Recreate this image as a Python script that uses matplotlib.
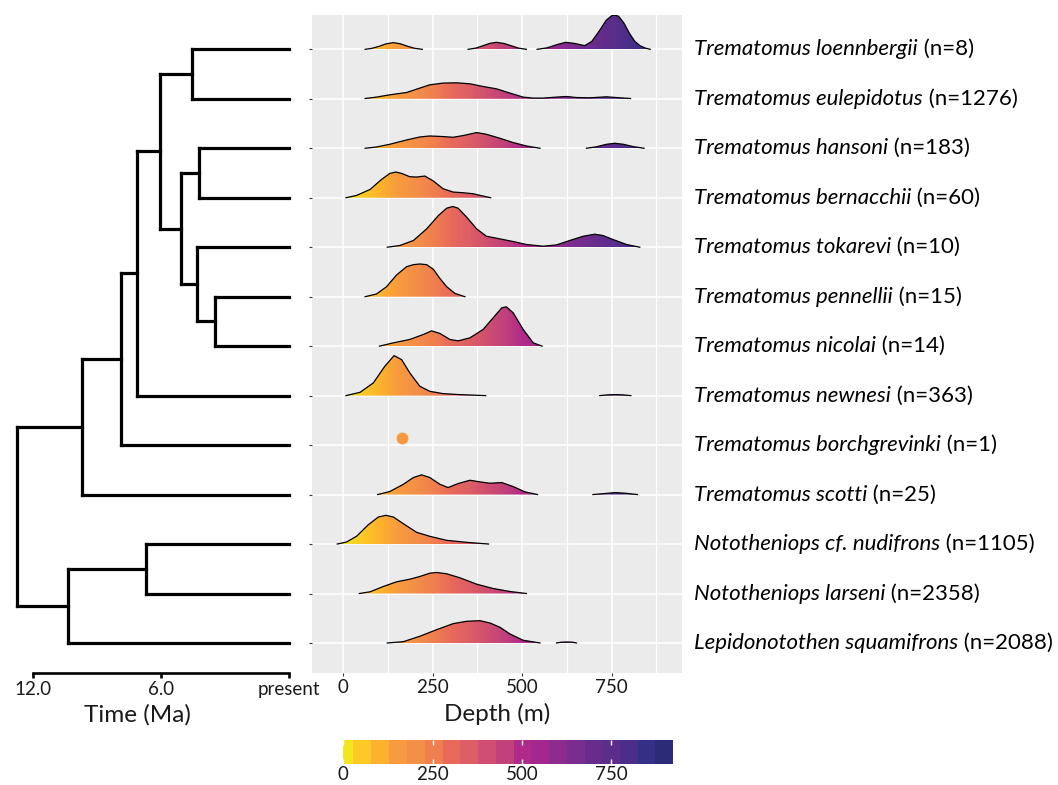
import numpy as np
import matplotlib
matplotlib.use('Agg')
import matplotlib.pyplot as plt
import matplotlib.colorbar as mcolorbar
from matplotlib.colors import LinearSegmentedColormap, ListedColormap, BoundaryNorm, Normalize
from matplotlib.patches import Polygon

plt.rcParams['font.family'] = ['Lato', 'DejaVu Sans']

# species, top to bottom
species = ['Trematomus loennbergii', 'Trematomus eulepidotus', 'Trematomus hansoni',
           'Trematomus bernacchii', 'Trematomus tokarevi', 'Trematomus pennellii',
           'Trematomus nicolai', 'Trematomus newnesi', 'Trematomus borchgrevinki',
           'Trematomus scotti', 'Nototheniops cf. nudifrons', 'Nototheniops larseni',
           'Lepidonotothen squamifrons']
counts = [8, 1276, 183, 60, 10, 15, 14, 363, 1, 25, 1105, 2358, 2088]

# depth densities (depth m, scaled height); nan separates pieces of a ridge
nan = np.nan
loennbergii_depth = [61, 80, 100, 120, 140, 160, 180, 200, 221, nan,
                     349, 370, 390, 410, 428, 450, 470, 490, 512, nan,
                     542, 570, 600, 622, 645, 675, 695, 715, 735, 750, 759, 770, 785, 800, 815, 830, 845, 858]
loennbergii_height = [0, 1, 3, 5.5, 6.7, 5.5, 3, 1, 0, nan,
                      0, 1.2, 3.5, 6, 7, 5.8, 3.5, 1.2, 0, nan,
                      0, 1.5, 5, 7, 6, 3.7, 8, 18, 29, 33.5, 34.3, 33, 26, 16, 8, 3.5, 1.2, 0]
eulepidotus_depth = [61, 93, 130, 177, 214, 242, 279, 317, 354, 391, 428, 466, 503, 531, 559, 596, 624, 652, 689, 736, 773, 803]
eulepidotus_height = [0.3, 1.7, 4, 6.3, 10.7, 14, 15.7, 16, 15, 12.3, 10, 5.7, 1.7, 0.7, 0.7, 1.7, 2.3, 1.3, 1, 2, 1, 0.3]
hansoni_depth = [61, 93, 130, 177, 214, 242, 279, 307, 335, 373, 400, 438, 475, 512, 550, nan,
                 680, 708, 736, 759, 783, 810, 841]
hansoni_height = [0, 1.3, 4, 8.3, 11.3, 12.3, 11.7, 11, 12.7, 15.7, 14, 10, 5.7, 2.3, 0, nan,
                  0, 1.5, 4, 5, 4, 1.7, 0]
bernacchii_depth = [7.5, 37, 75, 107, 130, 147, 163, 186, 205, 228, 252, 279, 307, 335, 363, 391, 412]
bernacchii_height = [0, 2.3, 8.3, 18.3, 24.3, 25.7, 24.3, 21, 20.7, 21.7, 16.7, 9, 5.7, 5, 4, 1.7, 0]
tokarevi_depth = [123, 158, 196, 233, 266, 289, 306, 321, 345, 373, 400, 438, 475, 512, 559, 596, 633, 671, 703, 726, 754, 792, 829]
tokarevi_height = [0, 1.7, 6.7, 18.3, 31.7, 39, 40.7, 39, 30, 18.3, 11, 8.3, 5.7, 2.7, 1, 2.3, 6.7, 11, 13, 11.7, 7.7, 2.7, 0]
pennellii_depth = [61, 93, 121, 149, 177, 196, 214, 233, 252, 270, 289, 312, 340]
pennellii_height = [0, 2.7, 10, 21.7, 30, 32, 32.7, 32, 27.3, 18.3, 10, 3.3, 0]
nicolai_depth = [101, 140, 186, 224, 247, 270, 298, 321, 354, 391, 419, 443, 456, 475, 503, 531, 556]
nicolai_height = [0, 3.3, 6.7, 11.7, 15.3, 12.7, 6.7, 5.3, 8.3, 16.7, 28.3, 38.3, 39.3, 33.3, 16.7, 3.3, 0]
newnesi_depth = [7.5, 47, 84, 116, 142, 163, 186, 214, 242, 279, 326, 398, nan,
                 717, 740, 760, 780, 804]
newnesi_height = [0, 3.3, 12.7, 29.3, 40, 36, 22.7, 9.3, 4.3, 2, 1, 0, nan,
                  0, 0.8, 1, 0.8, 0]
borchgrevinki_depth = [164]
borchgrevinki_height = [6.7]
scotti_depth = [96, 130, 168, 196, 219, 242, 270, 293, 321, 354, 382, 410, 443, 475, 508, 543, nan,
                698, 730, 760, 790, 822]
scotti_height = [0, 3, 10.3, 17, 19.7, 17, 10.3, 7, 11, 14.3, 12.7, 11.3, 12, 8, 2.7, 0, nan,
                 0, 1, 2, 1.3, 0]
nudifrons_depth = [-17, 9, 37, 70, 98, 119, 140, 168, 205, 242, 289, 345, 406]
nudifrons_height = [0, 2, 7.7, 19.3, 27, 28.7, 27, 20.3, 11.7, 7.7, 3.7, 1.7, 0]
larseni_depth = [45, 75, 112, 149, 186, 214, 242, 261, 289, 326, 373, 419, 466, 512]
larseni_height = [0, 1.7, 7, 11.7, 14.3, 17, 20.3, 21, 19.7, 15.7, 9.3, 5, 2, 0]
squamifrons_depth = [123, 168, 214, 261, 307, 345, 382, 410, 438, 466, 503, 550, nan,
                     596, 610, 625, 640, 652]
squamifrons_height = [0, 1.3, 6.7, 13.3, 19.3, 21.7, 22.3, 20, 15.7, 9, 2.7, 0, nan,
                      0, 0.8, 1, 0.8, 0]

ridge_depths = [loennbergii_depth, eulepidotus_depth, hansoni_depth, bernacchii_depth,
                tokarevi_depth, pennellii_depth, nicolai_depth, newnesi_depth,
                borchgrevinki_depth, scotti_depth, nudifrons_depth, larseni_depth,
                squamifrons_depth]
ridge_heights = [loennbergii_height, eulepidotus_height, hansoni_height, bernacchii_height,
                 tokarevi_height, pennellii_height, nicolai_height, newnesi_height,
                 borchgrevinki_height, scotti_height, nudifrons_height, larseni_height,
                 squamifrons_height]
height_scale = 49.45  # scaled height units per row

# tree: internal node ages (Ma) and children
node_age = {'root': 12.74, 'A': 9.70, 'B': 7.88, 'C': 7.13, 'D': 6.04, 'E': 4.56,
            'F': 5.06, 'G': 4.21, 'H': 4.33, 'I': 3.47, 'J': 10.33, 'K': 6.71}
node_children = {
    'root': ['A', 'J'],
    'A': ['B', 'Trematomus scotti'],
    'B': ['C', 'Trematomus borchgrevinki'],
    'C': ['D', 'Trematomus newnesi'],
    'D': ['E', 'F'],
    'E': ['Trematomus loennbergii', 'Trematomus eulepidotus'],
    'F': ['G', 'H'],
    'G': ['Trematomus hansoni', 'Trematomus bernacchii'],
    'H': ['Trematomus tokarevi', 'I'],
    'I': ['Trematomus pennellii', 'Trematomus nicolai'],
    'J': ['K', 'Lepidonotothen squamifrons'],
    'K': ['Nototheniops cf. nudifrons', 'Nototheniops larseni'],
}

# depth colour legend (binned)
legend_edges = [0, 28, 78, 128, 178, 228, 278, 328, 377, 427, 477, 526, 576, 626, 676,
                725, 776, 825, 874, 924]
legend_colours = ['#f3e51e', '#fdc926', '#fcb22c', '#f89a3f', '#f48f47', '#f07f4f',
                  '#e8695a', '#dd5e66', '#d04f70', '#c0417b', '#b02a8a', '#a3278f',
                  '#8e2b8f', '#7a2c8f', '#6a2c8c', '#5c2d8b', '#4a2e8a', '#353086', '#2b2b78']
depth_ticks = [0, 250, 500, 750]
time_ticks = [12.0, 6.0, 0.0]
time_labels = ['12.0', '6.0', 'present']

edges = np.array(legend_edges, dtype=float)
centres = (edges[:-1] + edges[1:]) / 2 / edges[-1]
centres[0], centres[-1] = 0.0, 1.0
depth_cmap = LinearSegmentedColormap.from_list('depth', list(zip(centres, legend_colours)))
depth_norm = Normalize(edges[0], edges[-1])

TICK_SIZE = 13.5
LABEL_SIZE = 17.5
SPECIES_SIZE = 16

W, H = 1058, 785
fig = plt.figure(figsize=(W / 100, H / 100), dpi=100)
panel_box = [312 / W, 1 - 673 / H, 370 / W, 658 / H]
ax = fig.add_axes(panel_box)
tree_ax = fig.add_axes([0, panel_box[1], 300 / W, panel_box[3]])

n = len(species)
rows = np.arange(n)[::-1]  # top species gets the highest y
ylim = (-0.607, n - 1 + 0.694)

# --- ridgelines
ax.set_facecolor('#EBEBEB')
for k in range(n):
    y0 = rows[k]
    d = np.array(ridge_depths[k], dtype=float)
    h = np.array(ridge_heights[k], dtype=float) / height_scale
    if len(d) == 1:
        ax.plot(d, y0 + h, 'o', ms=7.5, color=depth_cmap(depth_norm(d[0])), zorder=3 + k)
        continue
    breaks = np.where(np.isnan(d))[0]
    for sd, sh in zip(np.split(d, breaks), np.split(h, breaks)):
        sd, sh = sd[~np.isnan(sd)], sh[~np.isnan(sh)]
        verts = np.column_stack([np.r_[sd, sd[-1], sd[0]], np.r_[y0 + sh, y0, y0]])
        patch = Polygon(verts, closed=True, facecolor='none', edgecolor='none')
        ax.add_patch(patch)
        grad = np.linspace(sd[0], sd[-1], 256)[None, :]
        im = ax.imshow(grad, extent=[sd[0], sd[-1], y0, y0 + sh.max()], origin='lower',
                       aspect='auto', cmap=depth_cmap, norm=depth_norm, zorder=3 + k,
                       interpolation='bilinear')
        im.set_clip_path(patch)
        ax.plot(sd, y0 + sh, color='black', lw=0.9, zorder=3 + k + 0.5)

ax.set_xlim(-87.5, 947)
ax.set_ylim(*ylim)
ax.set_xticks(depth_ticks)
ax.set_xticks([125, 375, 625, 875], minor=True)
ax.set_yticks(rows)
ax.grid(which='major', color='white', lw=1.1)
ax.grid(which='minor', axis='x', color='white', lw=0.9)
ax.set_axisbelow(True)
for s in ax.spines.values():
    s.set_visible(False)
ax.tick_params(which='minor', length=0)
ax.tick_params(axis='x', length=2.5, color='#333333', labelsize=TICK_SIZE,
               labelcolor='#1a1a1a', pad=2)
ax.tick_params(axis='y', left=True, right=False, labelleft=False, length=2.5, color='#333333')
ax.set_xlabel('Depth (m)', fontsize=LABEL_SIZE, labelpad=5, color='#1a1a1a')

ytrans = ax.get_yaxis_transform()
for k in range(n):
    t1 = ax.annotate(species[k], xy=(1, rows[k]), xycoords=ytrans, xytext=(8.6, 0),
                     textcoords='offset points', fontsize=SPECIES_SIZE, style='italic',
                     ha='left', va='center')
    ax.annotate(' (n=%d)' % counts[k], xy=(1, 0.5), xycoords=t1, fontsize=SPECIES_SIZE,
                ha='left', va='center')

# --- tree
tip_y = dict(zip(species, rows))


def draw(node):
    if node not in node_children:
        return tip_y[node]
    x = node_age[node]
    ys = []
    for child in node_children[node]:
        cy = draw(child)
        cx = node_age.get(child, 0.0)
        tree_ax.plot([x, cx], [cy, cy], color='black', lw=2.3, solid_capstyle='projecting')
        ys.append(cy)
    tree_ax.plot([x, x], [min(ys), max(ys)], color='black', lw=2.3, solid_capstyle='projecting')
    return np.mean(ys)


draw('root')
tree_ax.set_xlim(13.52, -0.5)
tree_ax.set_ylim(*ylim)
for side in ['top', 'left', 'right']:
    tree_ax.spines[side].set_visible(False)
tree_ax.spines['bottom'].set_bounds(0, 12)
tree_ax.spines['bottom'].set_linewidth(1.9)
tree_ax.set_yticks([])
tree_ax.set_xticks(time_ticks)
tree_ax.set_xticklabels(time_labels)
tree_ax.tick_params(axis='x', length=3.5, width=1.9, labelsize=TICK_SIZE,
                    labelcolor='#1a1a1a', pad=2)
tree_ax.set_xlabel('Time (Ma)', fontsize=LABEL_SIZE, color='#1a1a1a')
tree_ax.xaxis.set_label_coords(0.457, -0.047)
tree_ax.xaxis.label.set_va('top')

# --- colour legend
cax = fig.add_axes([343.3 / W, 1 - 764.3 / H, 330 / W, 24.3 / H])
cb = mcolorbar.ColorbarBase(cax, cmap=ListedColormap(legend_colours),
                            norm=BoundaryNorm(legend_edges, len(legend_colours)),
                            orientation='horizontal', spacing='proportional',
                            ticks=depth_ticks)
cb.minorticks_off()
cb.outline.set_visible(False)
cax.xaxis.set_ticks_position('both')
cax.tick_params(axis='x', which='both', direction='in', length=3.6, width=1, color='white',
                labelsize=TICK_SIZE, labelcolor='#1a1a1a', labeltop=False,
                labelbottom=True, pad=1)

fig.savefig('out.png', dpi=100)
